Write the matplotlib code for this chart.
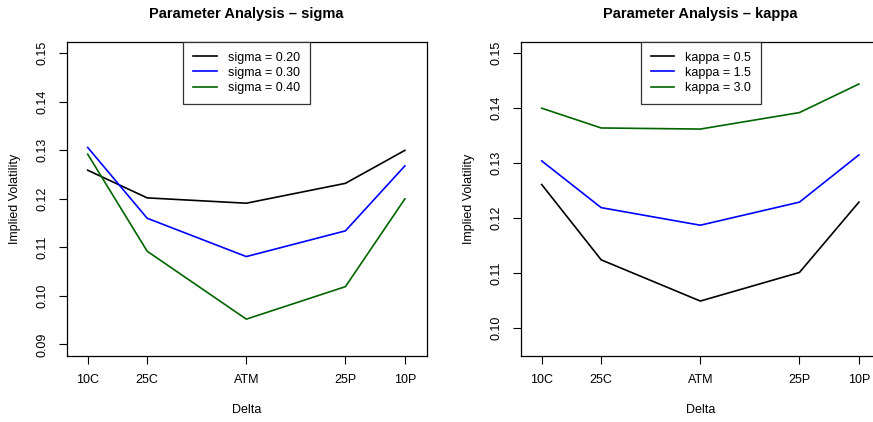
import numpy as np
import matplotlib
matplotlib.use('Agg')
import matplotlib.pyplot as plt

plt.rcParams['font.family'] = ['Liberation Sans', 'DejaVu Sans']

# delta buckets
delta_pos = [0.10, 0.25, 0.50, 0.75, 0.90]
delta_labels = ['10C', '25C', 'ATM', '25P', '10P']

# sigma sweep
sigma_labels = ['sigma = 0.20', 'sigma = 0.30', 'sigma = 0.40']
sigma_020 = [0.1259, 0.1202, 0.1191, 0.1232, 0.1300]
sigma_030 = [0.1306, 0.1160, 0.1081, 0.1134, 0.1268]
sigma_040 = [0.1292, 0.1092, 0.0952, 0.1019, 0.1200]

# kappa sweep
kappa_labels = ['kappa = 0.5', 'kappa = 1.5', 'kappa = 3.0']
kappa_05 = [0.1261, 0.1124, 0.1049, 0.1101, 0.1229]
kappa_15 = [0.1304, 0.1219, 0.1187, 0.1229, 0.1315]
kappa_30 = [0.1400, 0.1364, 0.1362, 0.1392, 0.1444]

cols = ['black', 'blue', '#006400']

W, H = 873, 422
fig = plt.figure(figsize=(W/100, H/100), dpi=100)

def panel(rect, series, labels, title, yticks, ylim):
    ax = fig.add_axes(rect)
    for s, lab, c in zip(series, labels, cols):
        ax.plot(delta_pos, s, color=c, lw=1.2, label=lab)
    ax.set_xlim(0.047, 0.955)
    ax.set_ylim(*ylim)
    ax.set_xticks(delta_pos)
    ax.set_xticklabels(delta_labels, fontsize=9)
    ax.set_yticks(yticks)
    ax.set_yticklabels(['%.2f' % t for t in yticks], fontsize=9, rotation=90, va='center')
    ax.tick_params(direction='out', length=6, width=0.8, pad=7)
    for sp in ax.spines.values():
        sp.set_linewidth(0.9)
    ax.set_xlabel('Delta', fontsize=9, labelpad=13)
    ax.set_ylabel('Implied Volatility', fontsize=9, labelpad=11)
    ax.set_title(title, fontsize=10.5, fontweight='bold', pad=17)
    leg = ax.legend(loc='upper center', fontsize=9, frameon=True, fancybox=False,
                    edgecolor='#333333', framealpha=1, borderaxespad=0,
                    handlelength=1.85, handletextpad=0.9, labelspacing=0.25,
                    borderpad=0.8)
    leg.get_frame().set_linewidth(0.9)
    return ax

panel([66.7/W, 66/H, 360/W, 314.3/H], [sigma_020, sigma_030, sigma_040],
      sigma_labels, 'Parameter Analysis \u2013 sigma',
      [0.09, 0.10, 0.11, 0.12, 0.13, 0.14, 0.15], (0.0876, 0.1524))

ax2 = panel([520.7/W, 66/H, 360/W, 314.3/H], [kappa_05, kappa_15, kappa_30],
            kappa_labels, 'Parameter Analysis \u2013 kappa',
            [0.10, 0.11, 0.12, 0.13, 0.14, 0.15], (0.0949, 0.1521))

fig.savefig('out.png', dpi=100)
